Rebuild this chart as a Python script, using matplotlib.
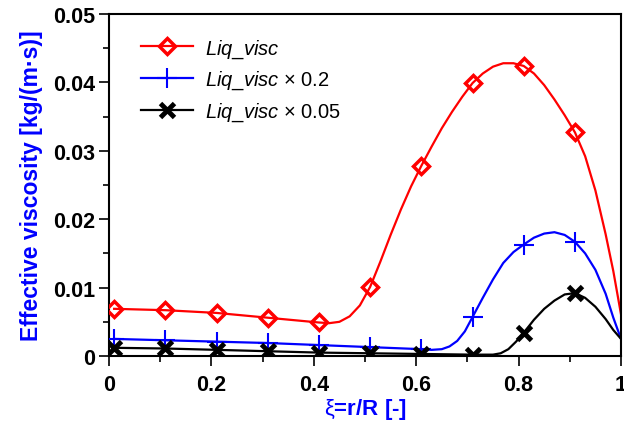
import numpy as np
import matplotlib
matplotlib.use('Agg')
import matplotlib.pyplot as plt

plt.rcParams['font.family'] = ['Liberation Sans', 'DejaVu Sans']
plt.rcParams['mathtext.fontset'] = 'custom'
plt.rcParams['mathtext.it'] = 'Liberation Sans:italic'
plt.rcParams['mathtext.rm'] = 'Liberation Sans'

# marker positions (xi = r/R)
x_mark = [0.01, 0.11, 0.21, 0.31, 0.41, 0.51, 0.61, 0.71, 0.81, 0.91]
red_mark = [0.0069, 0.0067, 0.0063, 0.0056, 0.0049, 0.0101, 0.0278, 0.0399, 0.0424, 0.0327]
blue_mark = [0.0025, 0.0023, 0.0021, 0.0019, 0.0016, 0.0013, 0.0010, 0.0057, 0.0163, 0.0167]
black_mark = [0.0012, 0.0011, 0.0009, 0.0007, 0.0005, 0.0004, 0.0003, 0.0002, 0.0034, 0.0092]

# smooth curves
red_x = [0.01, 0.11, 0.21, 0.31, 0.41, 0.43, 0.45, 0.47, 0.49, 0.51, 0.53, 0.55, 0.57, 0.59,
         0.61, 0.63, 0.65, 0.67, 0.69, 0.71, 0.73, 0.75, 0.77, 0.79, 0.81, 0.83, 0.85, 0.87,
         0.89, 0.91, 0.93, 0.95, 0.97, 0.985, 1.0]
red_y = [0.0069, 0.0067, 0.0063, 0.0056, 0.0049, 0.0048, 0.0050, 0.0058, 0.0074, 0.0101,
         0.0138, 0.0177, 0.0214, 0.0248, 0.0278, 0.0306, 0.0333, 0.0357, 0.0379, 0.0399,
         0.0413, 0.0423, 0.0428, 0.0428, 0.0424, 0.0413, 0.0396, 0.0375, 0.0352, 0.0327,
         0.0292, 0.0242, 0.0178, 0.0124, 0.0061]
blue_x = [0.01, 0.11, 0.21, 0.31, 0.41, 0.51, 0.61, 0.63, 0.65, 0.665, 0.68, 0.695, 0.71,
          0.73, 0.75, 0.77, 0.79, 0.81, 0.83, 0.85, 0.87, 0.89, 0.91, 0.93, 0.95, 0.97,
          0.985, 1.0]
blue_y = [0.0025, 0.0023, 0.0021, 0.0019, 0.0016, 0.0013, 0.0010, 0.0009, 0.0010, 0.0014,
          0.0022, 0.0036, 0.0057, 0.0085, 0.0112, 0.0136, 0.0152, 0.0163, 0.0173, 0.0179,
          0.0181, 0.0177, 0.0167, 0.0150, 0.0126, 0.0091, 0.0056, 0.0025]
black_x = [0.01, 0.11, 0.21, 0.31, 0.41, 0.51, 0.61, 0.71, 0.75, 0.765, 0.78, 0.795, 0.81,
           0.83, 0.85, 0.87, 0.89, 0.91, 0.93, 0.95, 0.97, 0.985, 1.0]
black_y = [0.0012, 0.0011, 0.0009, 0.0007, 0.0005, 0.0004, 0.0003, 0.0002, 0.0002, 0.0004,
           0.0010, 0.0021, 0.0034, 0.0053, 0.0069, 0.0081, 0.0090, 0.0092, 0.0085, 0.0072,
           0.0054, 0.0038, 0.0025]

x_ticks = [0, 0.2, 0.4, 0.6, 0.8, 1.0]
x_ticklabels = ['0', '0.2', '0.4', '0.6', '0.8', '1']
y_ticks = [0, 0.01, 0.02, 0.03, 0.04, 0.05]
y_ticklabels = ['0', '0.01', '0.02', '0.03', '0.04', '0.05']

fig = plt.figure(figsize=(6.24, 4.27), dpi=100)
ax = fig.add_axes([0.1747, 0.1639, 0.8205, 0.801])

ax.plot(red_x, red_y, color='red', lw=1.6, zorder=2)
ax.plot(blue_x, blue_y, color='blue', lw=1.6, zorder=2)
ax.plot(black_x, black_y, color='black', lw=1.6, zorder=2)
ax.plot(x_mark, red_mark, ls='none', marker='D', ms=8, mfc='none', mec='red', mew=2.5, zorder=3)
ax.plot(x_mark, blue_mark, ls='none', marker='+', ms=15, mec='blue', mew=1.5, zorder=3)
ax.plot(x_mark, black_mark, ls='none', marker='x', ms=10, mec='black', mew=3.5, zorder=3)

# legend handles
ax.plot([], [], color='red', lw=1.6, marker='D', ms=8, mfc='none', mec='red', mew=2.5,
        label=r'$\it{Liq\_visc}$')
ax.plot([], [], color='blue', lw=1.6, marker='+', ms=15, mew=1.5,
        label=r'$\it{Liq\_visc}$' + ' \u00d7 0.2')
ax.plot([], [], color='black', lw=1.6, marker='x', ms=10, mew=3.5,
        label=r'$\it{Liq\_visc}$' + ' \u00d7 0.05')
ax.legend(loc='upper left', frameon=False, fontsize=14.5, handlelength=2.6,
          bbox_to_anchor=(0.027, 0.985), borderaxespad=0.5, labelspacing=0.45,
          handletextpad=0.6)

ax.set_xlim(0, 1)
ax.set_ylim(0, 0.05)
ax.set_xticks(x_ticks)
ax.set_xticklabels(x_ticklabels)
ax.set_xticks([0.1, 0.3, 0.5, 0.7, 0.9], minor=True)
ax.set_yticks(y_ticks)
ax.set_yticklabels(y_ticklabels)
ax.set_yticks([0.005, 0.015, 0.025, 0.035, 0.045], minor=True)
ax.tick_params(which='major', direction='out', length=7, width=1.2, labelsize=15.5, pad=3)
ax.tick_params(axis='x', which='major', pad=6)
ax.tick_params(which='minor', direction='out', length=4, width=1.2)
for lab in ax.get_xticklabels() + ax.get_yticklabels():
    lab.set_fontweight('bold')
for sp in ax.spines.values():
    sp.set_linewidth(1.5)

ax.set_xlabel(r'$\mathrm{\xi}$' + '=r/R [-]', color='blue', fontsize=16, fontweight='bold',
              labelpad=1)
ax.set_ylabel('Effective viscosity [kg/(m\u00b7s)]', color='blue', fontsize=16.5,
              fontweight='bold', labelpad=7)

fig.savefig('out.png', dpi=100)
